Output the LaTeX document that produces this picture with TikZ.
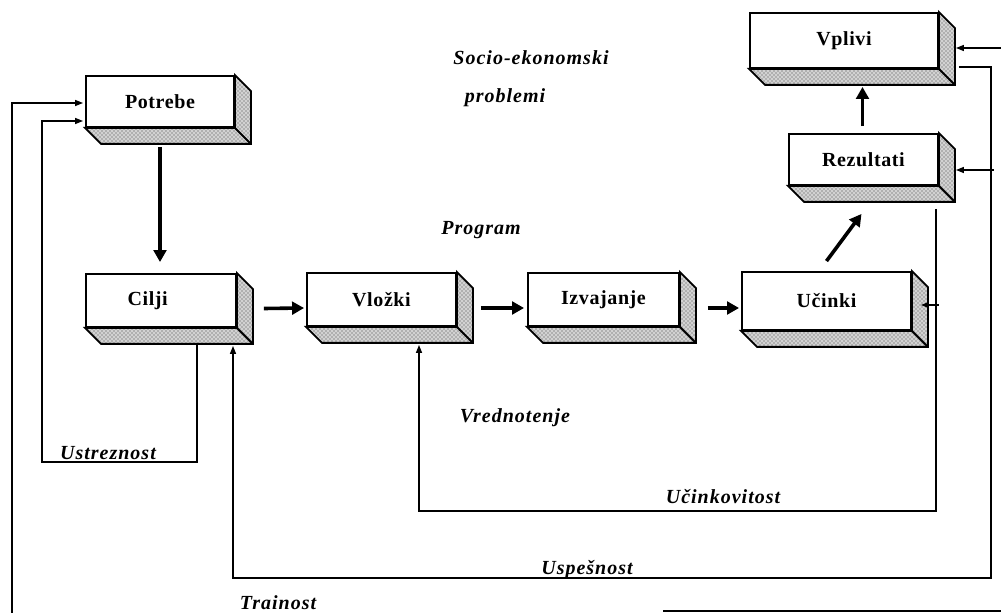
\documentclass[tikz,border=0pt]{standalone}
\usepackage{fontspec}
\setmainfont{Liberation Serif}
\newfontfamily\labfont[LetterSpace=5]{Liberation Serif}
\newfontfamily\boxfont[LetterSpace=3]{Liberation Serif}
\usetikzlibrary{calc,arrows.meta,patterns}

% a box drawn as a block: white front face with a dotted right and bottom depth
\newcommand\threedbox[6]{%
  \node[box, minimum width=#4*0.75pt, minimum height=#5*0.75pt] (#1) at (#2,#3) {#6};
  \filldraw[depth] (#1.north east) -- ++(16,16) -- ($(#1.south east)+(16,16)$)
    -- ($(#1.south west)+(16,16)$) -- (#1.south west) -- (#1.south east) -- cycle;
  \draw[line width=1.4pt] (#1.south east) -- ++(16,16);
}

\tikzset{
  box/.style={draw, line width=1.4pt, fill=white, inner sep=0pt,
    font=\boxfont\bfseries\fontsize{15}{17}\selectfont},
  depth/.style={draw, line width=1.4pt, line join=miter,
    preaction={fill=gray!35}, pattern=crosshatch dots, pattern color=black!75},
  flow/.style={line width=2.7pt, -{Triangle[length=9pt,width=9.5pt]}},
  fb/.style={line width=1pt, -{Triangle[length=6pt,width=4.5pt]}},
  lab/.style={font=\labfont\bfseries\itshape\fontsize{15}{17}\selectfont}
}

\begin{document}
\begin{tikzpicture}[x=0.75pt,y=-0.75pt]
\useasboundingbox (0,0) rectangle (1001,613);

% blocks
\threedbox{potrebe}{160}{101.5}{148}{51}{\raisebox{-5pt}{Potrebe}}
\threedbox{cilji}{161}{300.5}{150}{53}{Cilji\hspace*{20pt}}
\threedbox{vlozki}{381.5}{299.5}{149}{53}{Vložki}
\threedbox{izvajanje}{603.5}{299.5}{151}{53}{Izvajanje}
\threedbox{ucinki}{826.5}{301}{169}{58}{Učinki}
\threedbox{rezultati}{863.5}{159.5}{149}{51}{Rezultati}
\threedbox{vplivi}{844}{40.5}{188}{55}{Vplivi}

% main chain
\draw[flow] ($(potrebe.south)+(0,19)$) -- ($(potrebe.south |- cilji.north)+(0,-11)$);
\draw[flow] ($(cilji.east)+(27,8)$) -- ($(vlozki.west)+(-2,8.5)$);
\draw[flow] ($(vlozki.east)+(24,8.5)$) -- ($(izvajanje.west)+(-3,8.5)$);
\draw[flow] ($(izvajanje.east)+(28,8.5)$) -- ($(ucinki.west)+(-2,7)$);
\draw[flow] ($(ucinki.north)+(0,-10)$) -- ($(rezultati.south)+(-2,28)$);
\draw[flow] ($(rezultati.north)+(-1,-7)$) -- ($(rezultati.north |- vplivi.south)+(-1,18)$);

% evaluation loops
\draw[fb] ($(cilji.south)+(36,17)$) |- (42,462) |- ($(potrebe.west)+(-2,19.5)$);
\coordinate (trajL) at (12,622);
\draw[fb] (trajL) |- ($(potrebe.west)+(-2,1.5)$);
\coordinate (trajB) at (663,611);
\draw[fb] (trajB) -| (1012,48) -- ($(vplivi.east)+(17,7.5)$);
\draw[fb] ($(rezultati.south)+(72.5,23)$) |- (419,511) -- ($(vlozki.south)+(37.5,18)$);
\coordinate (ucBranch) at ($(ucinki.east)+(27,4)$);
\draw[fb] (ucBranch) -- ($(ucinki.east)+(9,4)$);
\draw[fb] ($(vplivi.east)+(20,26.5)$) -| (991,578) -| ($(cilji.south)+(72,18)$);
\coordinate (rzBranch) at ($(rezultati.east)+(55,10.5)$);
\draw[fb] (rzBranch) -- ($(rezultati.east)+(17,10.5)$);

% labels
\node[lab] (socio) at (531,58) {Socio-ekonomski};
\node[lab] (problemi) at (505,98) {problemi};
\node[lab] (program) at (481,230) {Program};
\node[lab] (vred) at (515,418) {Vrednotenje};
\node[lab] (ustr) at (108,453) {Ustreznost};
\node[lab] (ucink) at (723,497) {Učinkovitost};
\node[lab] (uspes) at (587,570) {Uspešnost};
\node[lab, inner sep=1pt] (trajn) at (278,603) {Trainost};
\end{tikzpicture}
\end{document}
